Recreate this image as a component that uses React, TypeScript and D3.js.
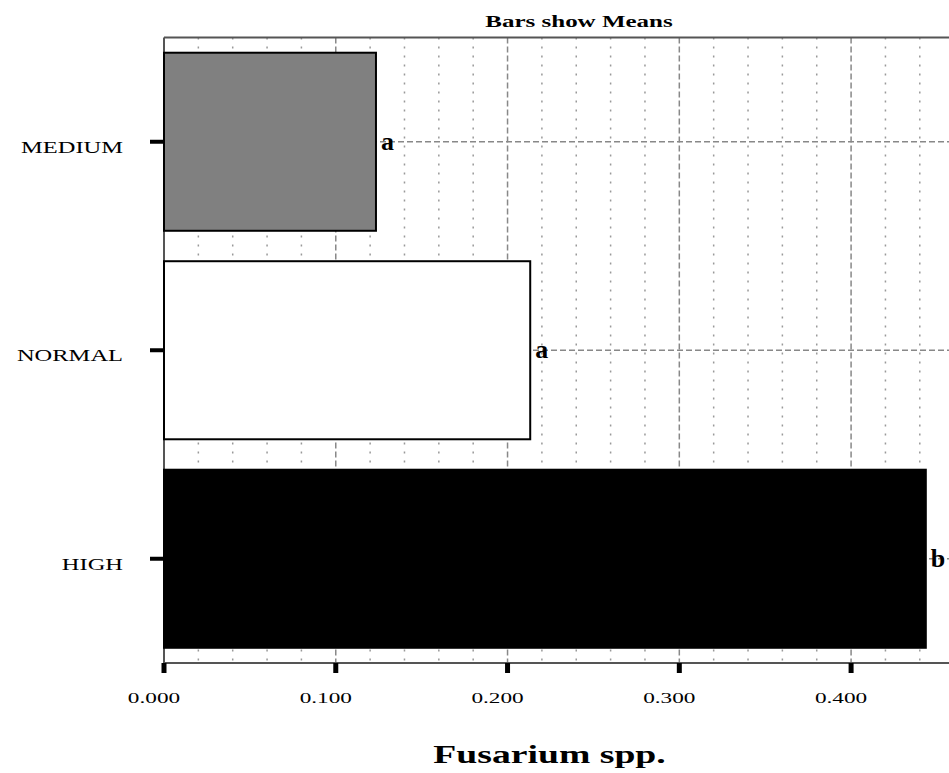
import React from "react";
import * as d3 from "d3";

const categories = ["MEDIUM", "NORMAL", "HIGH"];
const means = [0.1234, 0.2132, 0.4435];
const groupLetters = ["a", "a", "b"];
const barFills = ["#808080", "#ffffff", "#000000"];
const majorTicks = [0, 0.1, 0.2, 0.3, 0.4];
const minorTicks = [0.02, 0.04, 0.06, 0.08, 0.12, 0.14, 0.16, 0.18, 0.22, 0.24, 0.26, 0.28, 0.32, 0.34, 0.36, 0.38, 0.42, 0.44];

const W = 949;
const H = 773;
const left = 164;
const right = 949;
const top = 37.5;
const bottom = 663;

export default function App() {
  const x = d3.scaleLinear().domain([0, 0.457]).range([left, right]);
  const y = d3
    .scaleBand<string>()
    .domain(categories)
    .range([top, bottom])
    .paddingInner(0.146)
    .paddingOuter(0.073);
  const fmt = d3.format(".3f");
  const serif = "'Liberation Serif', 'Times New Roman', serif";
  const mid = (c: string) => (y(c) as number) + y.bandwidth() / 2;

  return (
    <svg
      width={W}
      height={H}
      style={{ position: "absolute", left: 0, top: 0, background: "#fff" }}
      fontFamily={serif}
    >
      {/* minor vertical grid */}
      {minorTicks.map((t) => (
        <line
          key={"mn" + t}
          x1={x(t)}
          x2={x(t)}
          y1={top}
          y2={bottom}
          stroke="#999"
          strokeWidth={1.5}
          strokeDasharray="2,7"
        />
      ))}
      {/* major vertical grid */}
      {majorTicks.slice(1).map((t) => (
        <line
          key={"mj" + t}
          x1={x(t)}
          x2={x(t)}
          y1={top}
          y2={bottom}
          stroke="#888"
          strokeWidth={1.5}
          strokeDasharray="6,3"
        />
      ))}
      {/* horizontal grid at category centres */}
      {categories.map((c) => (
        <line
          key={"h" + c}
          x1={left}
          x2={right}
          y1={mid(c)}
          y2={mid(c)}
          stroke="#888"
          strokeWidth={1.5}
          strokeDasharray="6,3"
        />
      ))}
      {/* frame */}
      <line x1={left} x2={right} y1={top} y2={top} stroke="#555" strokeWidth={2} />
      <line x1={left} x2={left} y1={top} y2={bottom} stroke="#555" strokeWidth={2} />
      <line x1={left} x2={right} y1={bottom} y2={bottom} stroke="#555" strokeWidth={2} />
      {/* bars */}
      {categories.map((c, i) => (
        <rect
          key={"b" + c}
          x={x(0)}
          y={y(c) as number}
          width={x(means[i]) - x(0)}
          height={y.bandwidth()}
          fill={barFills[i]}
          stroke="#000"
          strokeWidth={2}
        />
      ))}
      {/* group letters */}
      {categories.map((c, i) => (
        <text
          key={"l" + c}
          x={x(means[i]) + 5}
          y={mid(c) + 8}
          fontSize={26}
          fontWeight="bold"
          fill="#000"
        >
          {groupLetters[i]}
        </text>
      ))}
      {/* y ticks and labels */}
      {categories.map((c) => (
        <g key={"yt" + c}>
          <line x1={150} x2={left} y1={mid(c)} y2={mid(c)} stroke="#000" strokeWidth={4} />
          <text
            transform={`translate(123,${mid(c) + 11}) scale(1.4,1)`}
            textAnchor="end"
            fontSize={17.5}
            fill="#000"
          >
            {c}
          </text>
        </g>
      ))}
      {/* x ticks and labels */}
      {majorTicks.map((t) => (
        <g key={"xt" + t}>
          <line x1={x(t)} x2={x(t)} y1={bottom} y2={673} stroke="#000" strokeWidth={5} />
          <text
            transform={`translate(${x(t) - 10},703) scale(1.5,1)`}
            textAnchor="middle"
            fontSize={15.5}
            fill="#000"
          >
            {fmt(t)}
          </text>
        </g>
      ))}
      <text
        transform="translate(579,27) scale(1.47,1)"
        textAnchor="middle"
        fontSize={17}
        fontWeight="bold"
        fill="#000"
      >
        Bars show Means
      </text>
      <text
        transform="translate(549.5,763) scale(1.45,1)"
        textAnchor="middle"
        fontSize={26}
        fontWeight="bold"
        fill="#000"
      >
        Fusarium spp.
      </text>
    </svg>
  );
}
